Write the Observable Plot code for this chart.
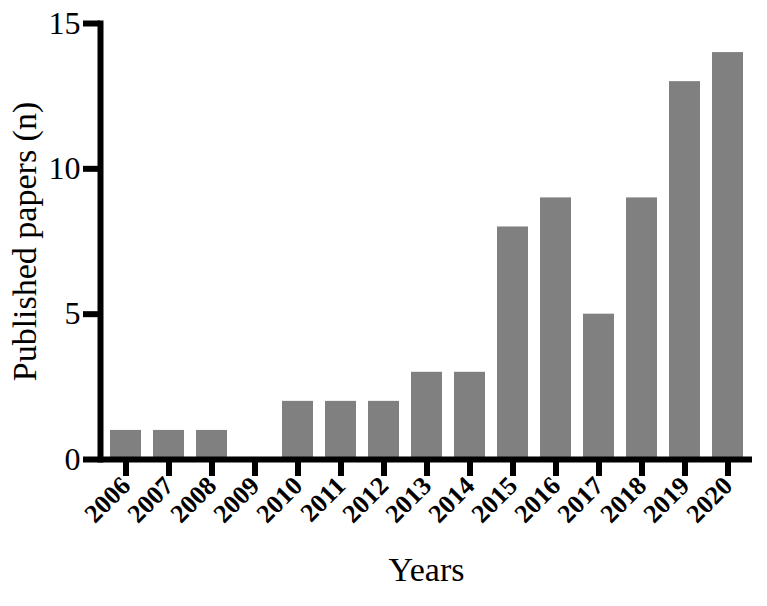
<!DOCTYPE html>
<html>
<head>
<meta charset="utf-8">
<script src="https://cdn.jsdelivr.net/npm/d3@7"></script>
<script src="https://cdn.jsdelivr.net/npm/@observablehq/plot@0.6"></script>
<style>
  html, body { margin: 0; padding: 0; background: #fff; }
</style>
</head>
<body>
<div id="chart"></div>
<script>
const years = ["2006","2007","2008","2009","2010","2011","2012","2013","2014","2015","2016","2017","2018","2019","2020"];
const papers = [1, 1, 1, 0, 2, 2, 2, 3, 3, 8, 9, 5, 9, 13, 14];
const yTicks = [0, 5, 10, 15];
const xTitle = "Years";
const yTitle = "Published papers (n)";

const data = years.map((y, i) => ({year: y, n: papers[i]}));
const font = "'Palatino Linotype', Palatino, 'Book Antiqua', 'Liberation Serif', serif";

const chart = Plot.plot({
  width: 767,
  height: 606,
  marginLeft: 100,
  marginRight: 15,
  marginTop: 23,
  marginBottom: 147,
  style: {fontFamily: font, background: "#fff", color: "#000"},
  x: {domain: years, paddingInner: 0.285, paddingOuter: 0.14, label: null},
  y: {domain: [0, 15], label: null},
  marks: [
    Plot.barY(data, {x: "year", y: "n", fill: "#808080"}),
    Plot.axisY({ticks: yTicks, tickSize: 17, strokeWidth: 6, tickPadding: 3, fontSize: 32, label: null}),
    Plot.axisX({tickSize: 17, strokeWidth: 6, tickPadding: 5, tickRotate: -45, fontSize: 26, fontWeight: "bold", label: null}),
    Plot.frame({anchor: "left", strokeWidth: 6, stroke: "#000"}),
    Plot.ruleY([0], {strokeWidth: 6, stroke: "#000"}),
    Plot.text([xTitle], {frameAnchor: "bottom", dy: 121, fontSize: 34, fill: "#000", text: d => d}),
    Plot.text([yTitle], {frameAnchor: "left", dx: -75, rotate: -90, textAnchor: "middle", fontSize: 34, fill: "#000", text: d => d})
  ]
});
document.getElementById("chart").appendChild(chart);
</script>
</body>
</html>
